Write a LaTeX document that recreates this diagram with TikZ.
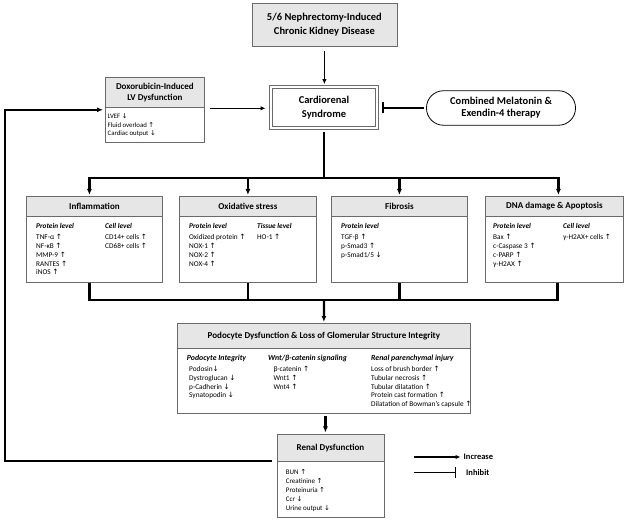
\documentclass[tikz,border=0pt]{standalone}
\usepackage{fontspec}
\setmainfont{Carlito}
\newfontfamily\arrfont{DejaVu Sans}
\usetikzlibrary{arrows.meta}
\definecolor{hdrgray}{HTML}{E6E6E6}
\definecolor{bordergray}{HTML}{6A6A6A}
\newcommand\UpArr{{\arrfont ↑}}
\newcommand\DnArr{{\arrfont ↓}}
\newcommand\subhd[1]{\textbf{\textit{#1}}}
\newcommand\subhdp[1]{{\fontsize{7.8}{9}\selectfont\textbf{\textit{#1}}}}
\tikzset{
  hdr/.style={draw=bordergray, fill=hdrgray, line width=0.8pt, anchor=north west, inner sep=0pt, align=center, font=\bfseries\fontsize{9}{11}\selectfont},
  bodybox/.style={draw=bordergray, fill=white, line width=0.8pt, anchor=north west, inner sep=0pt},
  txt/.style={anchor=north west, inner sep=0pt, align=left, font=\fontsize{7.3}{8.7}\selectfont},
  bus/.style={line width=2.2pt, black},
  bustip/.style={bus, -{Latex[length=6pt,width=5pt]}},
  thinarr/.style={line width=1.3pt, -{Latex[length=5pt,width=4.5pt]}},
  inhib/.style={line width=1.3pt, -{Bar[width=11pt,line width=1.3pt]}}
}
\begin{document}
\begin{tikzpicture}[x=1pt,y=-1pt]
\useasboundingbox (0,0) rectangle (625,521);

% top
\node[hdr, minimum width=145pt, minimum height=43pt, font=\bfseries\fontsize{10.5}{14}\selectfont] (ckd) at (251.5,3) {5/6 Nephrectomy-Induced\\Chronic Kidney Disease};

\node[draw=bordergray, double, double distance=2pt, line width=0.8pt, minimum width=106.4pt, minimum height=41.4pt, inner sep=0pt, align=center, font=\bfseries\fontsize{10.5}{14}\selectfont] (crs) at (324,107.5) {Cardiorenal\\Syndrome};

\node[draw=black, line width=0.8pt, rounded corners=17pt, minimum width=149pt, minimum height=34.5pt, inner sep=0pt, align=center, font=\bfseries\fontsize{10.5}{12}\selectfont] (mel) at (501,108) {Combined Melatonin \&\\Exendin-4 therapy};

% doxorubicin
\node[hdr, minimum width=99pt, minimum height=30pt] (doxH) at (105,77.5) {Doxorubicin-Induced\\LV Dysfunction};
\node[bodybox, minimum width=99pt, minimum height=35pt] (doxB) at (105,107.5) {};
\node[txt, font=\fontsize{6.8}{8.3}\selectfont] (doxT) at (107.5,113.7) {LVEF \DnArr\\Fluid overload \UpArr\\Cardiac output \DnArr};

% four boxes
\node[hdr, minimum width=136pt, minimum height=20pt] (inflH) at (26,196) {Inflammation};
\node[bodybox, minimum width=136pt, minimum height=66pt] (inflB) at (26,216) {};
\node[hdr, minimum width=137pt, minimum height=20pt] (oxH) at (179,196) {Oxidative stress};
\node[bodybox, minimum width=137pt, minimum height=66pt] (oxB) at (179,216) {};
\node[hdr, minimum width=136pt, minimum height=20pt] (fibH) at (331,196) {Fibrosis};
\node[bodybox, minimum width=136pt, minimum height=66pt] (fibB) at (331,216) {};
\node[hdr, minimum width=138pt, minimum height=20pt] (dnaH) at (485,196) {DNA damage \& Apoptosis};
\node[bodybox, minimum width=138pt, minimum height=66pt] (dnaB) at (485,216) {};

\node[txt] (inflP) at (36,223.5) {\subhd{Protein level}\\[2.4pt]TNF-α \UpArr\\NF-κB \UpArr\\MMP-9 \UpArr\\RANTES \UpArr\\iNOS \UpArr};
\node[txt] (inflC) at (105,223.5) {\subhd{Cell level}\\[2.4pt]CD14+ cells \UpArr\\CD68+ cells \UpArr};
\node[txt] (oxP) at (189,223.5) {\subhd{Protein level}\\[2.4pt]Oxidized protein \UpArr\\NOX-1 \UpArr\\NOX-2 \UpArr\\NOX-4 \UpArr};
\node[txt] (oxT) at (257,223.5) {\subhd{Tissue level}\\[2.4pt]HO-1 \UpArr};
\node[txt] (fibP) at (341,223.5) {\subhd{Protein level}\\[2.4pt]TGF-β \UpArr\\p-Smad3 \UpArr\\p-Smad1/5 \DnArr};
\node[txt] (dnaP) at (493,223.5) {\subhd{Protein level}\\[2.4pt]Bax \UpArr\\c-Caspase 3 \UpArr\\c-PARP \UpArr\\γ-H2AX \UpArr};
\node[txt] (dnaC) at (563,223.5) {\subhd{Cell level}\\[2.4pt]γ-H2AX+ cells \UpArr};

% podocyte
\node[hdr, minimum width=293pt, minimum height=25pt] (podH) at (177,323) {Podocyte Dysfunction \& Loss of Glomerular Structure Integrity};
\node[bodybox, minimum width=293pt, minimum height=65pt] (podB) at (177,348) {};
\node[txt, font=\fontsize{7.3}{8.9}\selectfont] (podI) at (186.7,355.3) {\subhdp{Podocyte Integrity}\\[1.4pt]\hspace*{2.3pt}Podosin\DnArr\\\hspace*{2.3pt}Dystroglucan \DnArr\\\hspace*{2.3pt}p-Cadherin \DnArr\\\hspace*{2.3pt}Synatopodin \DnArr};
\node[txt, font=\fontsize{7.3}{8.9}\selectfont] (podW) at (268,355.3) {\subhdp{Wnt/β-catenin signaling}\\[1.4pt]\hspace*{5.3pt}β-catenin \UpArr\\\hspace*{5.3pt}Wnt1 \UpArr\\\hspace*{5.3pt}Wnt4 \UpArr};
\node[txt, font=\fontsize{7.3}{8.9}\selectfont] (podR) at (371,355.3) {\subhdp{Renal parenchymal injury}\\[1.4pt]Loss of brush border \UpArr\\Tubular necrosis \UpArr\\Tubular dilatation \UpArr\\Protein cast formation \UpArr\\Dilatation of Bowman's capsule \UpArr};

% renal
\node[hdr, minimum width=107pt, minimum height=27pt] (renH) at (276.5,434) {Renal Dysfunction};
\node[bodybox, minimum width=107pt, minimum height=56.5pt] (renB) at (276.5,461) {};
\node[txt, font=\fontsize{7}{9}\selectfont] (renT) at (285.7,469.3) {BUN \UpArr\\Creatinine \UpArr\\Proteinuria \UpArr\\Ccr \DnArr\\Urine output \DnArr};

% connectors
\draw[thinarr, shorten <=4pt, shorten >=2.2pt] (ckd.south) -- (ckd.south |- crs.north);
\draw[thinarr, shorten <=5pt, shorten >=4.8pt] (doxH.south east) -- (doxH.south east -| crs.west);
\draw[inhib, shorten <=2pt, shorten >=4.8pt] (mel.west) -- (mel.west -| crs.east);

\coordinate (busT) at (324,178);
\draw[bus, shorten <=3pt] (crs.south) -- (busT);
\draw[bustip, shorten >=1pt] (busT) -| ([xshift=-5pt]inflH.north);
\draw[bustip, shorten >=1pt] (busT) -| ([xshift=4pt]dnaH.north);
\draw[bustip, shorten >=1pt] (busT -| oxH.north) -- (oxH.north);
\draw[bustip, shorten >=1pt] (busT -| fibH.north) -- (fibH.north);

\coordinate (busB) at (324,300);
\draw[bus] ([xshift=-5pt]inflB.south) |- (busB);
\draw[bus] ([xshift=3pt]dnaB.south) |- (busB);
\draw[bus] (oxB.south) -- (oxB.south |- busB);
\draw[bus] (fibB.south) -- (fibB.south |- busB);
\draw[bustip, shorten >=1pt] (busB) -- (podH.north);

\draw[bustip, shorten <=2pt, shorten >=1.5pt] ([xshift=1.5pt]podB.south) -- ([xshift=1.5pt]podB.south |- renH.north);

\coordinate (fbCorner) at (5,461);
\draw[bustip, shorten >=2pt] ([xshift=-4.5pt]renB.north west) -- (fbCorner) |- ([yshift=-1.5pt]doxH.south west);

% legend
\node[anchor=west, inner sep=0pt, font=\bfseries\fontsize{8.5}{10}\selectfont] (incT) at (463.5,457) {Increase};
\node[anchor=west, inner sep=0pt, font=\bfseries\fontsize{8.5}{10}\selectfont] (inhT) at (466,472.7) {Inhibit};
\coordinate (incA) at (414,457);
\coordinate (inhA) at (414,472.7);
\draw[thinarr, shorten >=3pt] (incA) -- (incT.west);
\draw[inhib, shorten >=10pt] (inhA) -- (inhT.west);
\end{tikzpicture}
\end{document}
